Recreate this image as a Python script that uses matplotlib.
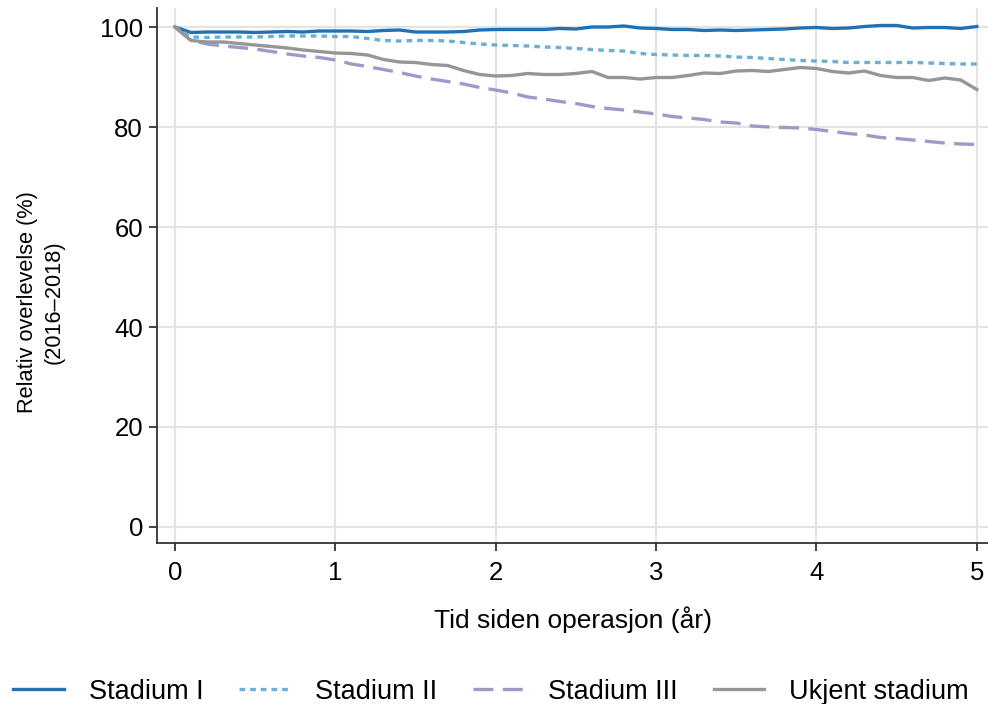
import numpy as np
import matplotlib
matplotlib.use('Agg')
from matplotlib import pyplot as plt

plt.rcParams['font.family'] = ['Liberation Sans', 'DejaVu Sans']

# years since surgery, 0.1 year steps
years = [round(0.1 * i, 1) for i in range(51)]

stadium_1 = [100, 98.9, 99.0, 99.0, 99.0, 98.9, 99.0, 99.1, 99.0, 99.2,
             99.2, 99.2, 99.1, 99.3, 99.4, 99.0, 99.0, 99.0, 99.1, 99.4,
             99.5, 99.5, 99.5, 99.5, 99.7, 99.6, 100.0, 100.0, 100.2, 99.8,
             99.7, 99.5, 99.5, 99.3, 99.4, 99.3, 99.4, 99.5, 99.6, 99.8,
             99.9, 99.7, 99.8, 100.1, 100.3, 100.3, 99.8, 99.9, 99.9, 99.7,
             100.1]
stadium_2 = [100, 98.0, 97.9, 98.0, 98.0, 98.0, 98.1, 98.2, 98.2, 98.2,
             98.1, 98.1, 97.7, 97.3, 97.2, 97.3, 97.3, 97.2, 96.9, 96.6,
             96.4, 96.3, 96.2, 96.0, 95.9, 95.7, 95.5, 95.3, 95.2, 94.7,
             94.5, 94.4, 94.3, 94.3, 94.2, 94.0, 93.9, 93.7, 93.5, 93.3,
             93.2, 93.1, 92.9, 92.9, 92.9, 92.9, 92.9, 92.8, 92.7, 92.6,
             92.6]
stadium_3 = [100, 97.3, 96.6, 96.2, 95.9, 95.6, 95.1, 94.6, 94.2, 93.9,
             93.4, 92.6, 92.1, 91.5, 90.9, 90.2, 89.6, 89.1, 88.6, 87.9,
             87.4, 86.8, 86.0, 85.6, 85.1, 84.7, 84.1, 83.7, 83.4, 83.0,
             82.6, 82.1, 81.8, 81.5, 81.0, 80.8, 80.2, 80.0, 79.9, 79.8,
             79.5, 79.1, 78.7, 78.4, 77.9, 77.7, 77.4, 77.1, 76.8, 76.6,
             76.5]
ukjent = [100, 97.3, 97.0, 97.0, 96.7, 96.4, 96.1, 95.8, 95.4, 95.1,
          94.8, 94.7, 94.4, 93.5, 93.0, 92.9, 92.5, 92.3, 91.3, 90.5,
          90.2, 90.3, 90.7, 90.5, 90.5, 90.7, 91.1, 89.9, 89.9, 89.6,
          89.9, 89.9, 90.3, 90.8, 90.7, 91.2, 91.3, 91.1, 91.5, 91.9,
          91.7, 91.1, 90.8, 91.2, 90.3, 89.9, 89.9, 89.3, 89.8, 89.4,
          87.5]

labels = ['Stadium I', 'Stadium II', 'Stadium III', 'Ukjent stadium']

fig = plt.figure(figsize=(9.88, 7.04), dpi=100)
ax = fig.add_axes([157 / 988, 161 / 704, 1 - 157 / 988, (543 - 8) / 704])

ax.plot(years, stadium_1, color='#2171b5', lw=2.4, label=labels[0])
ax.plot(years, stadium_2, color='#6baed6', lw=2.4, dashes=(1.7, 1.5), label=labels[1])
ax.plot(years, stadium_3, color='#9e9ac8', lw=2.4, dashes=(6.0, 2.8), label=labels[2])
ax.plot(years, ukjent, color='#969696', lw=2.4, label=labels[3])

ax.set_xlim(-0.112, 5.07)
ax.set_ylim(-3.2, 103.8)
ax.set_xticks(range(0, 6))
ax.set_yticks(range(0, 101, 20))
ax.grid(True, color='#e3e3e3', lw=1.5)
ax.set_axisbelow(True)
for s in ['top', 'right']:
    ax.spines[s].set_visible(False)
for s in ['left', 'bottom']:
    ax.spines[s].set_color('#333333')
    ax.spines[s].set_linewidth(1.3)
ax.tick_params(direction='out', length=6, width=1.3, color='#333333',
               labelsize=18.5)
ax.tick_params(axis='x', pad=7)
ax.tick_params(axis='y', pad=4)

ax.set_xlabel('Tid siden operasjon (år)', fontsize=19, labelpad=15)
ax.set_ylabel('Relativ overlevelse (%)\n(2016\u20132018)', fontsize=15.7,
              linespacing=1.35)
ax.yaxis.set_label_coords(-0.111, 0.45)

fig.legend(loc='lower center', bbox_to_anchor=(0.497, -0.036), ncol=4,
           frameon=False, fontsize=19.5, handlelength=1.85, handletextpad=0.93,
           columnspacing=1.33)

fig.savefig('out.png', dpi=100)
